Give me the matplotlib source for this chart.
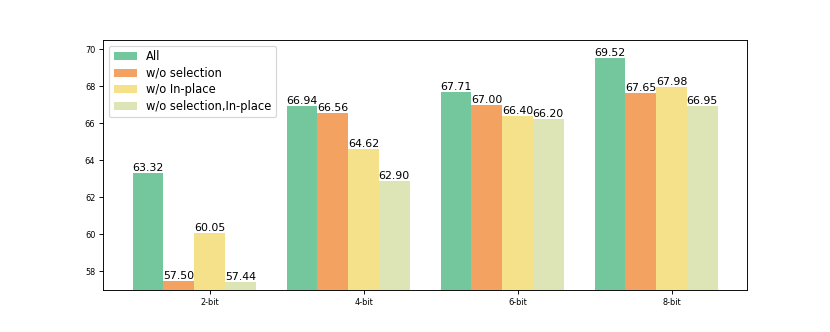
import numpy as np
import matplotlib.pyplot as plt

# data
bits = ["2-bit", "4-bit", "6-bit", "8-bit"]
series_names = ["All", "w/o selection", "w/o In-place", "w/o selection,In-place"]
all_vals = [63.32, 66.94, 67.71, 69.52]
no_sel = [57.50, 66.56, 67.00, 67.65]
no_inplace = [60.05, 64.62, 66.40, 67.98]
no_both = [57.44, 62.90, 66.20, 66.95]
colors = ["#74c69d", "#f4a261", "#f5e18a", "#dde4b6"]

fig, ax = plt.subplots(figsize=(10, 4), dpi=83)
fig.subplots_adjust(left=0.1245, right=0.9, top=0.88, bottom=0.127)

x = np.arange(len(bits))
w = 0.2
offsets = [-2, -1, 0, 1]
for vals, name, c, off in zip([all_vals, no_sel, no_inplace, no_both],
                              series_names, colors, offsets):
    bars = ax.bar(x + off * w, vals, w, color=c, label=name)
    for b, v in zip(bars, vals):
        ax.text(b.get_x() + b.get_width() / 2, v, f"{v:.2f}",
                ha="center", va="bottom", fontsize=9.5)

ax.set_ylim(57, 70.5)
ax.set_xticks(x)
ax.set_xticklabels(bits)
ax.tick_params(labelsize=7)
ax.legend(loc="upper left", fontsize=10, labelspacing=0.3)

fig.savefig("out.png", dpi=83)
